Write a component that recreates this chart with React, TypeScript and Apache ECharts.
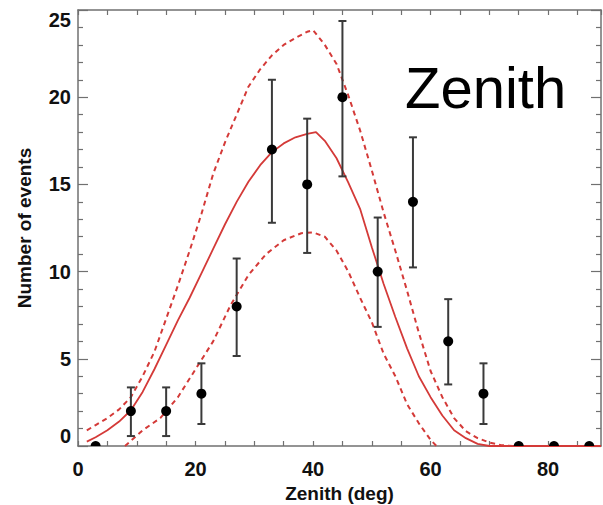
import React, { useEffect, useRef } from "react";
import * as echarts from "echarts";

// Observed events per zenith bin
const binCentres = [3, 9, 15, 21, 27, 33, 39, 45, 51, 57, 63, 69, 75, 81, 87];
const eventCounts = [0, 2, 2, 3, 8, 17, 15, 20, 10, 14, 6, 3, 0, 0, 0];
const errLow = [0, 0.57, 0.57, 1.26, 5.16, 12.8, 11.07, 15.46, 6.83, 10.24, 3.53, 1.26, 0, 0, 0];
const errHigh = [0, 3.36, 3.36, 4.74, 10.75, 21.0, 18.77, 24.37, 13.1, 17.7, 8.42, 4.74, 0, 0, 0];

// Expected distribution (central curve)
const modelX = [1.5, 3, 5, 7, 9, 11, 13, 15, 17, 19, 21, 23, 25, 27, 29, 31, 33, 35, 37, 39, 40.5, 42, 44, 46, 48, 50, 52, 54, 56, 58, 60, 62, 64, 66, 68, 70, 89];
const modelY = [0.25, 0.5, 0.9, 1.4, 2.05, 3.1, 4.4, 5.8, 7.2, 8.5, 9.9, 11.3, 12.7, 14.0, 15.15, 16.1, 16.85, 17.35, 17.7, 17.9, 18.0, 17.5, 16.5, 15.1, 13.6, 11.4, 9.3, 7.4, 5.6, 4.0, 2.8, 1.75, 0.9, 0.45, 0.12, 0, 0];

// Upper band
const upperX = [1.5, 3, 5, 7, 9, 11, 13, 15, 17, 19, 21, 23, 25, 27, 29, 31, 33, 35, 37, 39, 40, 42, 44, 46, 48, 50, 52, 54, 56, 58, 60, 62, 64, 66, 68, 70, 72, 74];
const upperY = [0.9, 1.2, 1.6, 2.1, 2.8, 4.0, 5.4, 7.3, 9.2, 11.2, 13.3, 15.6, 17.4, 19.0, 20.6, 21.6, 22.4, 23.0, 23.4, 23.75, 23.85, 23.0, 21.9, 20.1, 18.1, 15.8, 13.4, 11.2, 8.9, 6.5, 4.3, 2.8, 1.6, 0.85, 0.45, 0.2, 0.05, 0];

// Lower band
const lowerX = [8, 9, 11, 14, 17, 20, 23, 26, 29, 32, 35, 38, 40, 42, 44, 46, 48, 50, 52, 54, 56, 58, 60, 61];
const lowerY = [0, 0.3, 0.9, 1.6, 2.8, 4.4, 6.0, 8.1, 9.8, 11.0, 11.8, 12.2, 12.25, 12.0, 11.2, 10.0, 8.5, 7.1, 5.3, 4.0, 2.4, 1.3, 0.35, 0];

const xTickLabels = [0, 20, 40, 60, 80];

const FONT = "'Liberation Sans', Arial, Helvetica, sans-serif";
const RED = "#d43a38";
const AXIS_GREY = "#707070";

const zip = (xs: number[], ys: number[]) => xs.map((x, i) => [x, ys[i]]);

export default function App() {
  const ref = useRef<HTMLDivElement>(null);

  useEffect(() => {
    if (!ref.current) return;
    const chart = echarts.init(ref.current, undefined, { renderer: "svg" });

    const axisLine = { show: true, onZero: false, lineStyle: { color: AXIS_GREY, width: 1.5 } };
    const xTick = { show: true, inside: true, length: 5, lineStyle: { color: AXIS_GREY, width: 1.2 } };
    const yTick = { show: true, inside: true, length: 10, lineStyle: { color: AXIS_GREY, width: 1.2 } };
    const yMinor = { show: true, splitNumber: 5, length: 5, lineStyle: { color: AXIS_GREY, width: 1.2 } };

    const option = {
      animation: false,
      backgroundColor: "#ffffff",
      grid: { left: 78, right: 2, top: 10, bottom: 59, containLabel: false, outerBoundsMode: "none" },
      xAxis: [
        {
          type: "value",
          position: "bottom",
          min: 0,
          max: 89,
          interval: 5,
          axisLine,
          axisTick: xTick,
          splitLine: { show: false },
          axisLabel: {
            show: true,
            margin: 13,
            fontSize: 20,
            fontWeight: "bold",
            fontFamily: FONT,
            color: "#111",
            showMaxLabel: false,
            formatter: (v: number) => (xTickLabels.includes(v) ? String(v) : ""),
          },
          name: "Zenith (deg)",
          nameLocation: "middle",
          nameGap: 30,
          nameTextStyle: { fontSize: 19, fontWeight: "bold", fontFamily: FONT, color: "#111" },
        },
        {
          type: "value",
          position: "top",
          min: 0,
          max: 89,
          interval: 5,
          axisLine,
          axisTick: xTick,
          axisLabel: { show: false },
          splitLine: { show: false },
        },
      ],
      yAxis: [
        {
          type: "value",
          position: "left",
          min: 0,
          max: 25,
          interval: 5,
          axisLine,
          axisTick: yTick,
          minorTick: yMinor,
          splitLine: { show: false },
          minorSplitLine: { show: false },
          axisLabel: {
            margin: 7,
            fontSize: 20,
            fontWeight: "bold",
            fontFamily: FONT,
            color: "#111",
            verticalAlignMinLabel: "bottom",
            verticalAlignMaxLabel: "top",
          },
          name: "Number of events",
          nameLocation: "middle",
          nameGap: 44,
          nameTextStyle: { fontSize: 19, fontWeight: "bold", fontFamily: FONT, color: "#111" },
        },
        {
          type: "value",
          position: "right",
          min: 0,
          max: 25,
          interval: 5,
          axisLine,
          axisTick: yTick,
          minorTick: yMinor,
          axisLabel: { show: false },
          splitLine: { show: false },
        },
      ],
      series: [
        {
          type: "line",
          data: zip(upperX, upperY),
          symbol: "none",
          lineStyle: { color: RED, width: 2, type: [5, 4] },
          z: 3,
        },
        {
          type: "line",
          data: zip(lowerX, lowerY),
          symbol: "none",
          lineStyle: { color: RED, width: 2, type: [5, 4] },
          z: 3,
        },
        {
          type: "line",
          data: zip(modelX, modelY),
          symbol: "none",
          lineStyle: { color: RED, width: 1.8 },
          z: 3,
        },
        {
          type: "custom",
          clip: true,
          z: 5,
          data: binCentres.map((x, i) => [x, eventCounts[i], errLow[i], errHigh[i]]),
          encode: { x: 0, y: 1 },
          renderItem: (_params: any, api: any) => {
            const x = api.value(0);
            const v = api.value(1);
            const lo = api.value(2);
            const hi = api.value(3);
            const p = api.coord([x, v]);
            const children: any[] = [];
            const barStyle = { stroke: "#3a3a3a", lineWidth: 2 };
            if (hi > lo) {
              const a = api.coord([x, lo]);
              const b = api.coord([x, hi]);
              const cap = 4;
              children.push({ type: "line", shape: { x1: a[0], y1: a[1], x2: b[0], y2: b[1] }, style: barStyle });
              children.push({ type: "line", shape: { x1: a[0] - cap, y1: a[1], x2: a[0] + cap, y2: a[1] }, style: barStyle });
              children.push({ type: "line", shape: { x1: b[0] - cap, y1: b[1], x2: b[0] + cap, y2: b[1] }, style: barStyle });
            }
            children.push({ type: "circle", shape: { cx: p[0], cy: p[1], r: 5 }, style: { fill: "#000" } });
            return { type: "group", children };
          },
        },
      ],
      graphic: [
        {
          type: "text",
          left: 405,
          top: 58,
          style: {
            text: "Zenith",
            font: `58px ${FONT}`,
            fill: "#000",
          },
        },
      ],
    };

    chart.setOption(option as any);
    return () => chart.dispose();
  }, []);

  return (
    <div
      ref={ref}
      style={{ position: "absolute", left: 0, top: 0, width: 603, height: 505, background: "#fff" }}
    />
  );
}
